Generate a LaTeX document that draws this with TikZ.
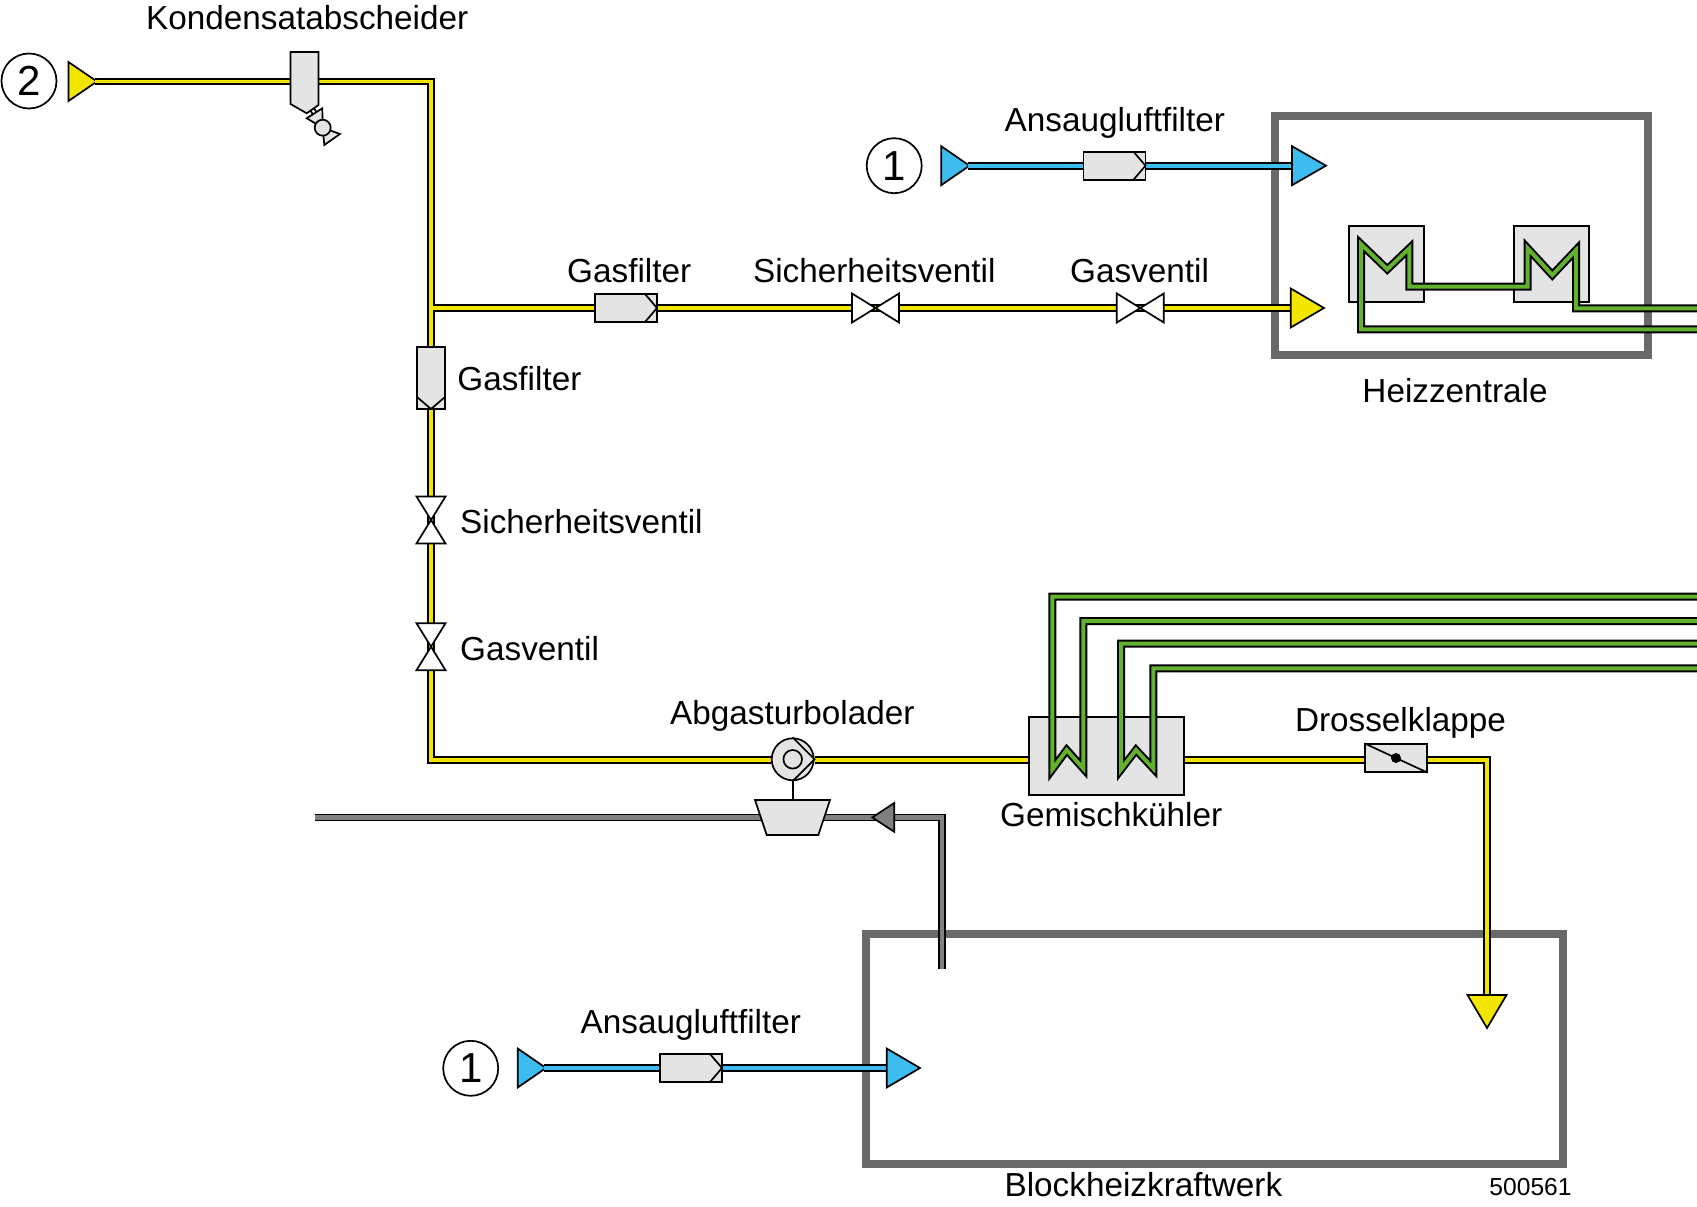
\documentclass[tikz,border=0pt]{standalone}
\usepackage{fontspec}
\setmainfont{Liberation Sans}
\usetikzlibrary{backgrounds}

\definecolor{gasyellow}{HTML}{F2E600}
\definecolor{airblue}{HTML}{3DBCF0}
\definecolor{heatgreen}{HTML}{62B22F}
\definecolor{exhaustgray}{HTML}{808080}
\definecolor{partgray}{HTML}{E4E4E4}
\definecolor{framegray}{HTML}{696969}

\tikzset{
  gaspipe/.style={draw=black, line width=2pt, double=gasyellow, double distance=3.8pt},
  airpipe/.style={draw=black, line width=2pt, double=airblue, double distance=3.8pt},
  exhaustpipe/.style={draw=black, line width=1.8pt, double=exhaustgray, double distance=4.2pt},
  heatpipe/.style={draw=black, line width=2pt, double=heatgreen, double distance=4pt},
  outline/.style={draw=black, line width=1.7pt},
  part/.style={outline, fill=partgray, rectangle, inner sep=0pt},
  frame/.style={draw=framegray, line width=8pt, rectangle, inner sep=0pt},
  ring/.style={outline, circle, inner sep=0pt, minimum size=55pt, fill=white,
    font=\fontsize{42}{46}\selectfont},
  lbl/.style={inner sep=0pt, anchor=base, font=\fontsize{33.3}{36}\selectfont}
}

\begin{document}
\begin{tikzpicture}[x=1pt,y=-1pt]
\useasboundingbox (0,0) rectangle (1697,1207);

% name, base, angle, colour, length, half width
\def\flowtip#1#2#3#4#5#6{
  \begin{scope}[shift={#2},rotate=#3]
    \filldraw[outline,fill=#4] (0,-#6) -- (#5,0) -- (0,#6) -- cycle;
    \coordinate (#1) at ({#5-2},0);
    \coordinate (#1base) at (4,0);
  \end{scope}
}
% name, centre, angle
\def\filterpart#1#2#3{
  \begin{scope}[shift={#2},rotate=#3,transform shape]
    \node[part,minimum width=62pt,minimum height=28pt] (#1) {};
    \draw[outline] (19,-14) -- (31,0) -- (19,14);
  \end{scope}
}
\def\valvepart#1#2#3{
  \begin{scope}[shift={#2},rotate=#3,transform shape]
    \node[inner sep=0pt,minimum width=47pt,minimum height=29pt] (#1) {};
    \filldraw[outline,fill=white] (-23.5,-14.5) -- (23.5,14.5) -- (23.5,-14.5) -- (-23.5,14.5) -- cycle;
  \end{scope}
}

\begin{pgfonlayer}{background}
  \node[frame,minimum width=373pt,minimum height=239pt] (heizzentrale) at (1461.5,235.5) {};
  \node[frame,minimum width=697.6pt,minimum height=229.7pt] (bhkw) at (1214.5,1048.9) {};
  \flowtip{gasin}{(68.5,81.5)}{0}{gasyellow}{28.5}{19.5}
  \flowtip{airintop}{(941.2,165.7)}{0}{airblue}{28.3}{19.5}
  \flowtip{airinlow}{(517.7,1068)}{0}{airblue}{28.3}{19.5}
\end{pgfonlayer}

% gas line
\coordinate (abscheider) at (304.5,81.5);
\coordinate (gasbend) at (431,81.5);
\coordinate (gastee) at (433,308);
\coordinate (gasleft) at (431,760);
\coordinate (gasright) at (1487,760);
\flowtip{gasheiz}{(1290.7,308)}{0}{gasyellow}{33.3}{19.5}
\flowtip{gasbhkw}{(1487,995)}{-90}{gasyellow}{33}{19.5}
\filterpart{filtervert}{(431,378)}{-90}
\filterpart{filterhor}{(626,308)}{0}
\valvepart{safevert}{(431,520)}{90}
\valvepart{valvevert}{(431,646.7)}{90}
\valvepart{safehor}{(875.5,308)}{0}
\valvepart{valvehor}{(1140.3,308)}{0}

% condensate separator
\filldraw[outline,fill=partgray] (290.5,52) -- (318.5,52) -- (318.5,105) -- (306.7,113.3) -- (290.5,104) -- cycle;
\draw[outline] (310.5,110.7) -- (313,114.5) (314,108.5) -- (316.5,112);
\filldraw[outline,fill=partgray] (322.7,127.7) -- (306.7,118.3) -- (322.3,108.3) -- cycle;
\filldraw[outline,fill=partgray] (322.7,127.7) -- (340,134) -- (324.3,145) -- cycle;
\node[part,circle,minimum size=16pt] (ablass) at (322.7,127.7) {};

% exhaust turbocharger
\coordinate (turbine) at (792.7,800);
\coordinate (exhaustout) at (315,817.4);
\coordinate (exhaustbend) at (942,817.4);
\coordinate (exhaustsrc) at (942,969);
\node[part,circle,minimum size=42pt] (turbo) at (792.7,759.3) {};
\node[outline,circle,inner sep=0pt,minimum size=18.6pt] (rotor) at (turbo.center) {};
\draw[outline] (turbo.north) -- (turbo.east) -- (turbo.south);
\draw[outline] (turbo.south) -- (turbine);
\filldraw[outline,fill=partgray] (755,800) -- (830,800) -- (818.3,835) -- (766.7,835) -- cycle;
\flowtip{exhausttip}{(894.3,817.4)}{180}{exhaustgray}{22}{14.5}

% cooler, throttle, heat exchangers
\node[part,minimum width=154.7pt,minimum height=78pt] (cooler) at (1106.3,755.7) {};
\node[part,minimum width=61.7pt,minimum height=27.7pt] (klappe) at (1396,758) {};
\draw[outline] (klappe.north west) -- (klappe.south east);
\node[circle,fill=black,inner sep=0pt,minimum size=10pt] (klappedot) at (klappe.center) {};
\node[part,minimum width=75.3pt,minimum height=75.7pt] (tauscherA) at (1386.6,263.8) {};
\node[part,minimum width=75pt,minimum height=75.7pt] (tauscherB) at (1551.2,263.8) {};

% air lines
\node[ring] (ringtop) at (894.2,165.7) {1};
\node[ring] (ringlow) at (470.7,1068.3) {1};
\node[ring] (ringgas) at (29,81) {2};
\flowtip{airouttop}{(1292,165.7)}{0}{airblue}{34}{19.5}
\filterpart{filtertop}{(1114.5,165.7)}{0}
\flowtip{airoutlow}{(886.7,1068)}{0}{airblue}{33.3}{19.5}
\filterpart{filterlow}{(691,1068)}{0}

\begin{pgfonlayer}{background}
  \draw[gaspipe] (gasin) -- (abscheider) -- (gasbend) -- (filtervert.center) -- (safevert.center)
    -- (valvevert.center) -- (gasleft) -- (gasleft -| turbo.west);
  \draw[gaspipe] (gastee) -- (filterhor.center) -- (safehor.center) -- (valvehor.center) -- (gasheizbase);
  \draw[gaspipe] (gasleft -| turbo.east) -- (gasleft -| cooler.west);
  \draw[gaspipe] (gasleft -| cooler.east) -- (gasleft -| klappe.west);
  \draw[gaspipe] (gasleft -| klappe.east) -- (gasright) -- (gasbhkwbase);
  \draw[airpipe] (airintop) -- (filtertop) (filtertop) -- (airouttopbase);
  \draw[airpipe] (airinlow) -- (filterlow) (filterlow) -- (airoutlowbase);
  \draw[exhaustpipe] (exhaustsrc) -- (exhaustbend) -- (exhaustout);
\end{pgfonlayer}

% heating water
\draw[heatpipe] (1697,329.3) -- (1361,329.3) -- (1361,244) -- (1387.3,269.3) -- (1409.3,248.3) -- (1409.3,286.7)
  -- (1527.7,286.7) -- (1527.7,248.3) -- (1552.3,275) -- (1576,250) -- (1576,308.3) -- (1697,308.3);
\draw[heatpipe] (1697,596.7) -- (1052.3,596.7) -- (1052.3,769.5) -- (1066.7,750) -- (1083.3,768.5) -- (1083.3,621) -- (1697,621);
\draw[heatpipe] (1697,643.7) -- (1121,643.7) -- (1121,769.5) -- (1136,750) -- (1153.3,768.5) -- (1153.3,668.3) -- (1697,668.3);

\foreach \n/\x/\y/\t in {kond/307.2/29.3/Kondensatabscheider, gfa/629.2/282.7/Gasfilter,
  sva/874.3/282/Sicherheitsventil, gva/1139.5/282/Gasventil, afa/1114.8/131.7/Ansaugluftfilter,
  heiz/1455/402/Heizzentrale, atl/792.3/724.7/Abgasturbolader, misch/1111.2/826/Gemischkühler,
  klap/1400.5/731/Drosselklappe, afb/690.8/1033.3/Ansaugluftfilter, block/1143.4/1196/Blockheizkraftwerk}
  \node[lbl] (lbl\n) at (\x,\y) {\t};
\foreach \n/\x/\y/\t in {gfb/457.2/390.8/Gasfilter, svb/460/533.2/Sicherheitsventil, gvb/460/660.3/Gasventil}
  \node[lbl,anchor=base west] (lbl\n) at (\x,\y) {\t};
\node[lbl,font=\fontsize{24.6}{27}\selectfont] (lblnr) at (1530.5,1195) {500561};

\end{tikzpicture}
\end{document}
